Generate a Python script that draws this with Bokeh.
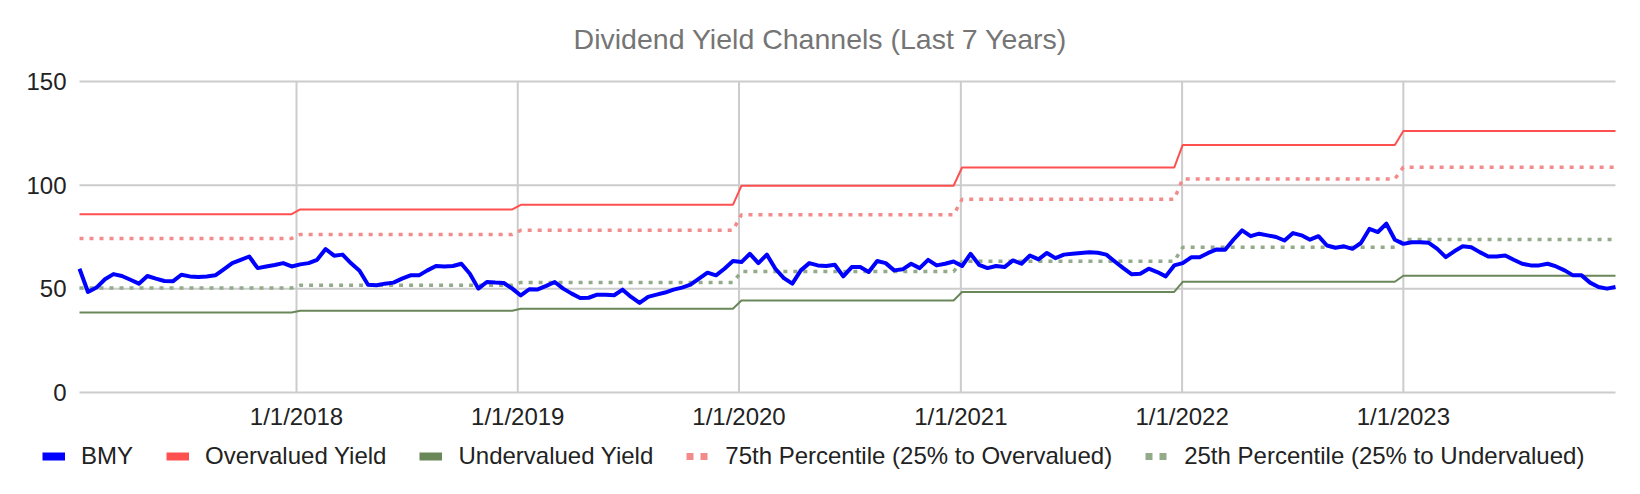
import pandas as pd
from bokeh.plotting import figure
from bokeh.models import ColumnDataSource, FixedTicker, Range1d, Label, Legend, LegendItem
from bokeh.embed import file_html
from bokeh.resources import INLINE

# ---------------- data ----------------
title_text = "Dividend Yield Channels (Last 7 Years)"
years = [2017, 2018, 2019, 2020, 2021, 2022, 2023]
start_date = "2017-01-08"   # bi-weekly observations
step = "14D"

bmy_2017 = [59.7, 48.5, 50.6, 54.6, 57.1, 56.2, 54.4, 52.5, 56.2, 54.9, 53.8, 53.6, 56.8,
            56.0, 55.7, 56.0, 56.5, 59.4, 62.4, 64.0, 65.6, 60.0, 60.8, 61.5, 62.4, 60.8]
bmy_2018 = [61.8, 62.4, 64.0, 69.2, 66.0, 66.5, 62.3, 58.7, 52.0, 51.7, 52.5, 53.0, 54.9,
            56.5, 56.5, 58.9, 61.0, 60.8, 61.0, 62.1, 57.3, 50.1, 53.3, 53.0, 52.8, 50.1]
bmy_2019 = [46.8, 49.8, 49.7, 51.4, 53.3, 50.1, 47.7, 45.6, 45.7, 47.2, 47.2, 46.9, 49.6,
            46.1, 43.2, 46.1, 47.2, 48.2, 49.6, 50.6, 52.0, 54.9, 57.8, 56.5, 59.7, 63.4]
bmy_2020 = [62.9, 66.9, 62.4, 66.5, 59.7, 55.2, 52.5, 58.9, 62.4, 61.3, 61.0, 61.6, 56.0,
            60.5, 60.5, 58.1, 63.4, 62.4, 58.9, 59.4, 62.1, 60.0, 64.0, 61.3, 62.1, 63.2]
bmy_2021 = [61.0, 66.9, 61.6, 60.0, 61.0, 60.5, 63.7, 62.1, 66.1, 64.2, 67.3, 64.8, 66.5,
            66.9, 67.3, 67.7, 67.4, 66.5, 63.2, 60.0, 57.0, 57.3, 59.7, 58.1, 56.0, 61.3]
bmy_2022 = [62.4, 65.2, 65.2, 67.3, 69.0, 68.8, 73.8, 78.2, 75.4, 76.6, 75.8, 75.0, 73.3,
            76.9, 75.8, 73.7, 75.4, 70.9, 69.8, 70.5, 69.3, 72.1, 78.9, 77.4, 81.4, 73.7]
bmy_2023 = [71.7, 72.5, 72.5, 72.2, 69.3, 65.3, 68.1, 70.5, 70.1, 67.7, 65.6, 65.6, 66.1,
            64.0, 62.1, 61.3, 61.3, 62.1, 60.8, 58.9, 56.5, 56.5, 53.0, 50.9, 50.1, 50.9]

# yearly channel levels
over_yield = [86.0, 88.3, 90.5, 99.7, 108.5, 119.4, 126.1]
pct75 = [74.3, 76.2, 78.2, 85.7, 93.2, 103.0, 108.7]
pct25 = [50.4, 51.7, 53.1, 58.3, 63.3, 70.0, 73.8]
under_yield = [38.6, 39.4, 40.4, 44.4, 48.5, 53.4, 56.3]

tick_dates = ["2018-01-01", "2019-01-01", "2020-01-01", "2021-01-01", "2022-01-01", "2023-01-01"]
tick_labels = ["1/1/2018", "1/1/2019", "1/1/2020", "1/1/2021", "1/1/2022", "1/1/2023"]
y_ticks = [0, 50, 100, 150]

series_names = ["BMY", "Overvalued Yield", "Undervalued Yield",
                "75th Percentile (25% to Overvalued)", "25th Percentile (25% to Undervalued)"]
colors = ["#0000ff", "#ff5050", "#6a8759", "#f38b8b", "#93aa8b"]

# ---------------- build ----------------
bmy = bmy_2017 + bmy_2018 + bmy_2019 + bmy_2020 + bmy_2021 + bmy_2022 + bmy_2023
dates = pd.date_range(start_date, periods=len(bmy), freq=step)
yidx = [d.year - years[0] for d in dates]

src = ColumnDataSource(dict(
    date=dates,
    bmy=bmy,
    over=[over_yield[k] for k in yidx],
    p75=[pct75[k] for k in yidx],
    p25=[pct25[k] for k in yidx],
    under=[under_yield[k] for k in yidx],
))

FONT = "Liberation Sans"
TXT = "24px"

# page geometry (pixels): the plot frame covers the whole canvas, the data area sits inside it
W, H = 1640, 494
PL, PR, PT, PB = 79, 1615, 81, 392          # data-area edges
t0 = dates[0].value // 10**6
t1 = dates[-1].value // 10**6
ms_per_px = (t1 - t0) / (PR - PL)
v_per_px = (y_ticks[-1] - y_ticks[0]) / (PB - PT)
x_range = Range1d(t0 - PL * ms_per_px, t1 + (W - PR) * ms_per_px)
y_range = Range1d(y_ticks[0] - (H - PB) * v_per_px, y_ticks[-1] + PT * v_per_px)

p = figure(width=W, height=H, x_axis_type="datetime",
           output_backend="svg", toolbar_location=None, title=None,
           x_range=x_range, y_range=y_range,
           min_border_left=0, min_border_right=0, min_border_top=0, min_border_bottom=0)
p.outline_line_color = None
p.background_fill_color = "white"
p.border_fill_color = "white"
p.xgrid.visible = False
p.ygrid.visible = False

tick_ms = [pd.Timestamp(t).value // 10**6 for t in tick_dates]

# gridlines limited to the data area
p.segment(x0=tick_ms, x1=tick_ms, y0=[y_ticks[0]] * len(tick_ms), y1=[y_ticks[-1]] * len(tick_ms),
          line_color="#cccccc", line_width=2)
p.segment(x0=[t0] * len(y_ticks), x1=[t1] * len(y_ticks), y0=y_ticks, y1=y_ticks,
          line_color="#cccccc", line_width=2)

# axes pinned at the data-area edges
xa = p.xaxis[0]
xa.ticker = FixedTicker(ticks=tick_ms)
xa.major_label_overrides = {ms: lab for ms, lab in zip(tick_ms, tick_labels)}
xa.fixed_location = y_ticks[0]
ya = p.yaxis[0]
ya.ticker = FixedTicker(ticks=y_ticks)
ya.fixed_location = t0
for ax in (xa, ya):
    ax.axis_line_color = None
    ax.major_tick_line_color = None
    ax.minor_tick_line_color = None
    ax.major_tick_out = 0
    ax.major_tick_in = 0
    ax.major_label_text_font = FONT
    ax.major_label_text_font_size = TXT
    ax.major_label_text_color = "#222222"
xa.major_label_standoff = 10
ya.major_label_standoff = 13

# series
p.line("date", "over", source=src, line_color=colors[1], line_width=2)
p.line("date", "under", source=src, line_color=colors[2], line_width=2)
p.line("date", "p75", source=src, line_color=colors[3], line_width=3.5, line_dash="4 6")
p.line("date", "p25", source=src, line_color=colors[4], line_width=3.5, line_dash="4 6")
p.line("date", "bmy", source=src, line_color=colors[0], line_width=4, line_join="round")

# title
p.add_layout(Label(x=W / 2, y=H - 38, x_units="screen", y_units="screen", text=title_text,
                   text_align="center", text_baseline="middle", text_font=FONT,
                   text_font_size="28.5px", text_color="#757575"))

# legend: swatch-only renderers (NaN data, nothing visible in the plot)
nan = float("nan")
leg_src = ColumnDataSource(dict(x=[t0, t1], y=[nan, nan]))
leg_r = [
    p.line("x", "y", source=leg_src, line_color=colors[0], line_width=8),
    p.line("x", "y", source=leg_src, line_color=colors[1], line_width=8),
    p.line("x", "y", source=leg_src, line_color=colors[2], line_width=8),
    p.line("x", "y", source=leg_src, line_color=colors[3], line_width=7, line_dash="7 7"),
    p.line("x", "y", source=leg_src, line_color=colors[4], line_width=7, line_dash="7 7"),
]
legend = Legend(items=[LegendItem(label=n, renderers=[r]) for n, r in zip(series_names, leg_r)],
                orientation="horizontal", location=(42, 24),
                glyph_width=23, glyph_height=24, label_height=24, label_standoff=16, spacing=33,
                padding=0, margin=0, border_line_color=None, background_fill_alpha=0,
                label_text_font=FONT, label_text_font_size=TXT, label_text_color="#222222")
p.add_layout(legend)

open("out.html", "w").write(file_html(p, INLINE))
